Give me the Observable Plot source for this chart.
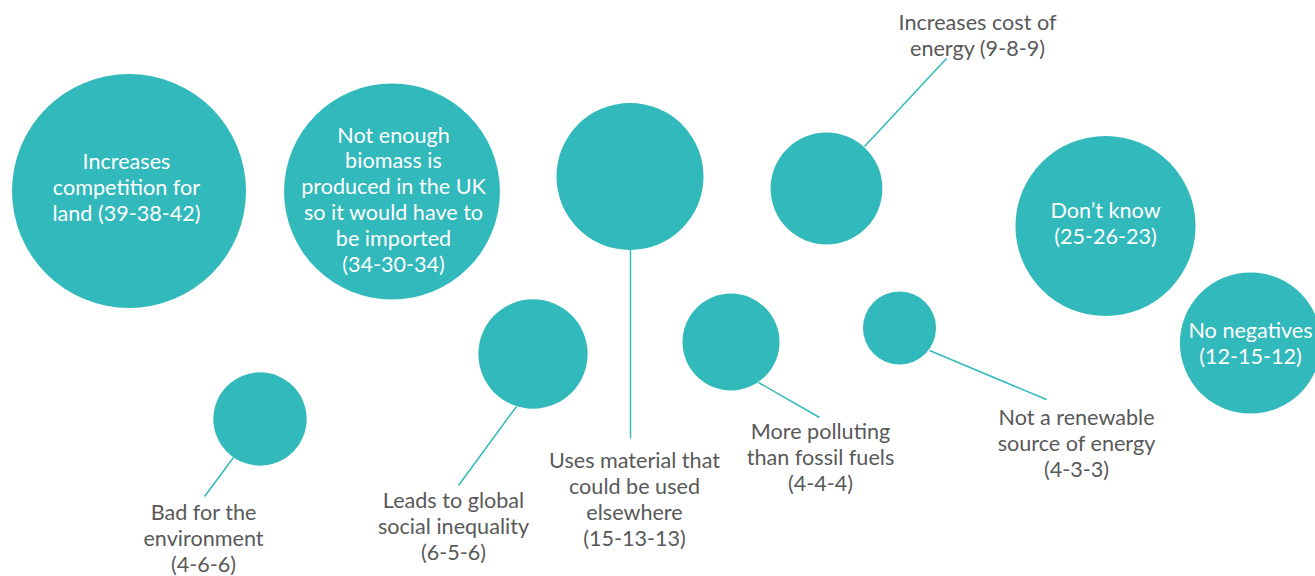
<!DOCTYPE html>
<html><head><meta charset="utf-8">
<script src="https://cdn.jsdelivr.net/npm/d3@7"></script>
<script src="https://cdn.jsdelivr.net/npm/@observablehq/plot@0.6"></script>
<style>html,body{margin:0;padding:0;background:#fff;overflow:hidden}</style>
</head><body><div id="chart"></div>
<script>
// Categories (line-wrapped as in the original) and the three survey values
const categories = [
  "Increases\ncompetition for\nland",
  "Not enough\nbiomass is\nproduced in the UK\nso it would have to\nbe imported",
  "Uses material that\ncould be used\nelsewhere",
  "Increases cost of\nenergy",
  "Don’t know",
  "No negatives",
  "Bad for the\nenvironment",
  "Leads to global\nsocial inequality",
  "More polluting\nthan fossil fuels",
  "Not a renewable\nsource of energy"
];
const wave1 = [39, 34, 15, 9, 25, 12, 4, 6, 4, 4];
const wave2 = [38, 30, 13, 8, 26, 15, 6, 5, 4, 3];
const wave3 = [42, 34, 13, 9, 23, 12, 6, 6, 4, 3];
const valuesOnSameLine = [true, false, false, true, false, false, false, false, false, false];
const labelInside = [true, true, false, false, true, true, false, false, false, false];
// Bubble size (area units, estimated from the drawn bubbles)
const bubbleSize = [39, 33.2, 15.4, 8.9, 23.1, 14.2, 6.2, 8.5, 6.7, 3.8];
// Layout (chart units)
const bubbleX = [128.5, 391.5, 629.5, 826, 1105, 1250, 259.5, 532.5, 730.5, 899];
const bubbleY = [190.5, 191, 176, 188, 225.5, 342.5, 418.5, 353.5, 341.5, 327.5];
const labelX = [126, 393, 634, 977, 1105, 1250, 203, 453, 820, 1076];
const labelY = [186, 198.5, 498.5, 34, 222, 342, 537.5, 525, 456.5, 442];
// Leader lines (chart units); null where the label sits inside the bubble
const leaderX1 = [null, null, 630, 864, null, null, 233, 516, 758, 929];
const leaderY1 = [null, null, 249, 146, null, null, 457, 406, 382, 350];
const leaderX2 = [null, null, 630, 946, null, null, 204, 458, 819, 1046];
const leaderY2 = [null, null, 438, 58, null, null, 496, 485, 417, 399];

const teal = "#31b9bb";
const grey = "#595959";

const rows = categories.map((c, i) => ({
  category: c,
  text: c + (valuesOnSameLine[i] ? " " : "\n") + `(${wave1[i]}-${wave2[i]}-${wave3[i]})`,
  size: bubbleSize[i],
  x: bubbleX[i], y: bubbleY[i],
  lx: labelX[i], ly: labelY[i],
  inside: labelInside[i],
  x1: leaderX1[i], y1: leaderY1[i], x2: leaderX2[i], y2: leaderY2[i]
}));
const leaders = rows.filter(d => d.x1 != null);

const chart = Plot.plot({
  width: 1315,
  height: 576,
  margin: 0,
  style: {fontFamily: "Lato, sans-serif", background: "#fff", overflow: "visible"},
  x: {domain: [0, 1315], range: [0, 1315], axis: null},
  y: {domain: [0, 576], range: [0, 576], axis: null},
  r: {type: "sqrt", domain: [0, 40], range: [0, 118.5]},
  marks: [
    Plot.link(leaders, {x1: "x1", y1: "y1", x2: "x2", y2: "y2", stroke: teal, strokeWidth: 1.5}),
    Plot.dot(rows, {x: "x", y: "y", r: "size", fill: teal, stroke: null}),
    Plot.text(rows, {
      x: "lx", y: "ly", text: "text",
      fill: d => d.inside ? "#ffffff" : grey,
      fontSize: 21.6, lineHeight: 1.2, textAnchor: "middle"
    })
  ]
});
document.getElementById("chart").append(chart);
</script>
</body></html>
